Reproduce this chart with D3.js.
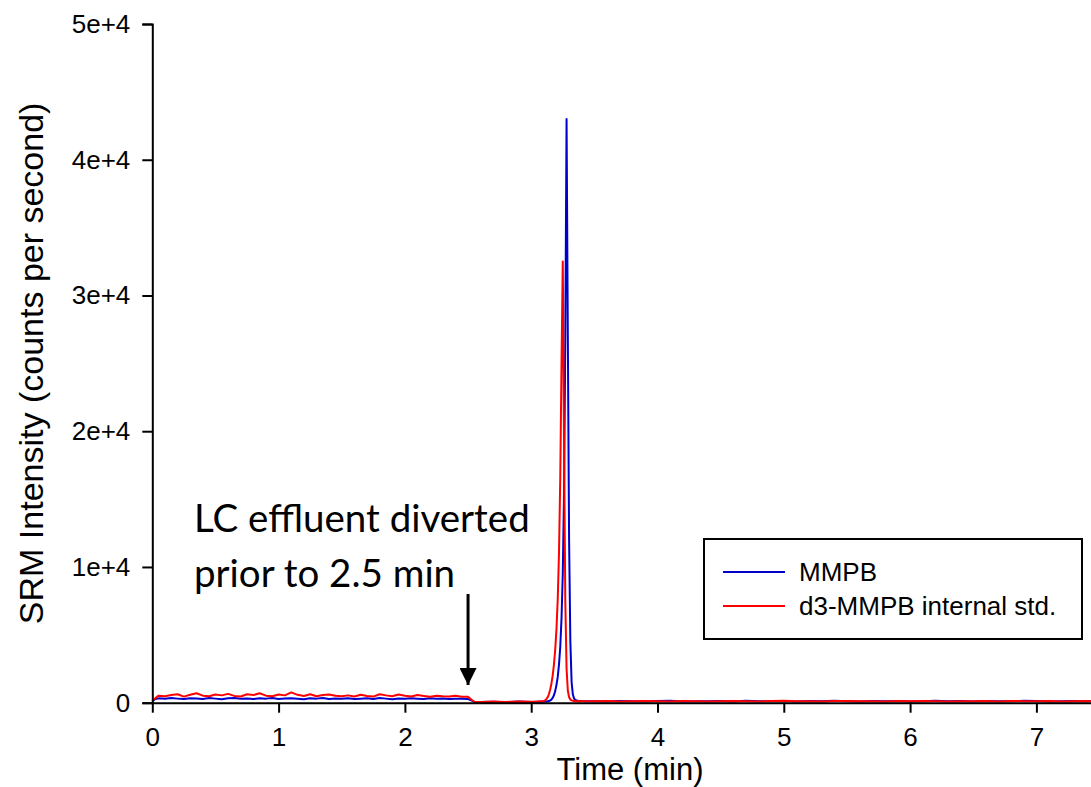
<!DOCTYPE html>
<html>
<head>
<meta charset="utf-8">
<script src="https://cdn.jsdelivr.net/npm/d3@7"></script>
<style>
  body { margin: 0; background: #fff; }
  svg { display: block; }
</style>
</head>
<body>
<div id="chart-area"></div>
<script>
// Data (time in min, intensity in counts/s)
var timeMin = [
  0, 0.02, 0.05, 0.10, 0.15, 0.20, 0.25, 0.30, 0.35, 0.40,
  0.45, 0.50, 0.55, 0.60, 0.65, 0.70, 0.75, 0.80, 0.85, 0.90,
  0.95, 1.00, 1.05, 1.10, 1.15, 1.20, 1.25, 1.30, 1.35, 1.40,
  1.45, 1.50, 1.55, 1.60, 1.65, 1.70, 1.75, 1.80, 1.85, 1.90,
  1.95, 2.00, 2.05, 2.10, 2.15, 2.20, 2.25, 2.30, 2.35, 2.40,
  2.45, 2.50, 2.53, 2.55, 2.60, 2.70, 2.80, 2.90, 3.00, 3.05,
  3.10, 3.11, 3.12, 3.13, 3.14, 3.15, 3.16, 3.17, 3.18, 3.19,
  3.20, 3.21, 3.22, 3.23, 3.24, 3.25, 3.26, 3.27, 3.28, 3.29,
  3.30, 3.31, 3.32, 3.33, 3.34, 3.35, 3.36, 3.38, 3.40, 3.45,
  3.50, 3.60, 3.70, 3.80, 3.90, 4.00, 4.10, 4.20, 4.30, 4.40,
  4.50, 4.60, 4.70, 4.80, 4.90, 5.00, 5.10, 5.20, 5.30, 5.40,
  5.50, 5.60, 5.70, 5.80, 5.90, 6.00, 6.10, 6.20, 6.30, 6.40,
  6.50, 6.60, 6.70, 6.80, 6.90, 7.00, 7.10, 7.20, 7.30, 7.40,
  7.44
];

var mmpb = [
  80, 260, 320, 290, 340, 300, 270, 330, 310, 280,
  350, 300, 260, 320, 340, 290, 310, 270, 330, 300,
  350, 280, 310, 330, 290, 260, 320, 300, 340, 280,
  310, 290, 330, 270, 300, 320, 280, 340, 300, 260,
  310, 290, 330, 300, 270, 320, 290, 310, 280, 300,
  290, 270, 150, 60, 50, 70, 40, 80, 60, 70,
  70, 80, 90, 100, 120, 160, 230, 350, 550, 850,
  1300, 1900, 2800, 4100, 6200, 9500, 15500, 27000, 43000, 27000,
  12000, 4500, 1500, 600, 300, 200, 160, 130, 120, 110,
  110, 90, 130, 100, 80, 120, 140, 90, 110, 100,
  120, 90, 140, 100, 110, 130, 90, 120, 100, 150,
  110, 90, 130, 100, 120, 80, 110, 140, 100, 120,
  90, 130, 110, 100, 140, 120, 90, 110, 130, 100,
  120
];

var mmpbStd = [
  120, 300, 520, 480, 560, 620, 450, 580, 700, 520,
  480, 600, 540, 650, 500, 460, 620, 560, 700, 520,
  480, 600, 540, 760, 580, 500, 620, 470, 560, 600,
  520, 480, 540, 460, 580, 500, 450, 620, 540, 480,
  600, 520, 460, 560, 500, 440, 520, 480, 460, 520,
  440, 430, 200, 70, 60, 80, 50, 90, 70, 90,
  130, 170, 260, 400, 620, 950, 1400, 2000, 2800, 3900,
  5400, 7600, 11000, 16500, 25000, 32500, 19000, 7500, 2500, 900,
  400, 230, 170, 150, 130, 120, 110, 120, 100, 110,
  100, 120, 90, 110, 130, 100, 90, 120, 110, 80,
  110, 130, 100, 90, 120, 140, 100, 110, 90, 120,
  130, 100, 110, 90, 120, 100, 130, 110, 90, 110,
  100, 120, 90, 130, 110, 100, 120, 90, 110, 130,
  100
];

var xTicks = [0, 1, 2, 3, 4, 5, 6, 7];
var yTicks = [0, 10000, 20000, 30000, 40000, 50000];
var yTickLabels = ["0", "1e+4", "2e+4", "3e+4", "4e+4", "5e+4"];
var seriesNames = ["MMPB", "d3-MMPB internal std."];
var seriesColors = ["#0000cc", "#ff0000"];

var width = 1091, height = 787;

var svg = d3.select("#chart-area")
    .append("svg")
        .attr("width", width)
        .attr("height", height);

// Scales
var x = d3.scaleLinear()
    .domain([0, 7.44])
    .range([152.3, 152.3 + 7.44 * 126.3]);

var y = d3.scaleLinear()
    .domain([0, 50000])
    .range([702.7, 24]);

// Traces
var series = [mmpb, mmpbStd];
var line = d3.line()
    .x(function(d){ return x(d[0]); })
    .y(function(d){ return y(d[1]); });

series.forEach(function(vals, i){
    var pts = timeMin.map(function(t, j){ return [t, vals[j]]; });
    svg.append("path")
        .datum(pts)
        .attr("fill", "none")
        .attr("stroke", seriesColors[i])
        .attr("stroke-width", 2)
        .attr("stroke-linejoin", "round")
        .attr("d", line);
});

// X Axis
var xAxisCall = d3.axisBottom(x)
    .tickValues(xTicks)
    .tickFormat(d3.format("d"))
    .tickSize(10)
    .tickSizeOuter(0)
    .tickPadding(15);
var xAxis = svg.append("g")
    .attr("transform", "translate(0," + y(0) + ")")
    .call(xAxisCall);

// Y Axis
var yAxisCall = d3.axisLeft(y)
    .tickValues(yTicks)
    .tickFormat(function(d, i){ return yTickLabels[i]; })
    .tickSize(10)
    .tickPadding(12);
var yAxis = svg.append("g")
    .attr("transform", "translate(" + x(0) + ",0)")
    .call(yAxisCall);

[xAxis, yAxis].forEach(function(a){
    a.selectAll("path, line").attr("stroke", "#000").attr("stroke-width", 2);
    a.selectAll("text")
        .attr("fill", "#000")
        .style("font-family", "'Liberation Sans', Arial, sans-serif")
        .style("font-size", "26px");
});

// Axis labels
svg.append("text")
    .attr("x", 630)
    .attr("y", 780)
    .attr("text-anchor", "middle")
    .style("font-family", "'Liberation Sans', Arial, sans-serif")
    .style("font-size", "31px")
    .text("Time (min)");

svg.append("text")
    .attr("transform", "translate(43," + ((y(0) + y(50000)) / 2) + ") rotate(-90)")
    .attr("text-anchor", "middle")
    .style("font-family", "'Liberation Sans', Arial, sans-serif")
    .style("font-size", "34px")
    .text("SRM Intensity (counts per second)");

// Annotation
var note = svg.append("text")
    .style("font-family", "Lato, 'Open Sans', sans-serif")
    .style("font-size", "38.5px")
    .attr("fill", "#000");
note.append("tspan").attr("x", 194).attr("y", 532).text("LC effluent diverted");
note.append("tspan").attr("x", 194).attr("y", 587).text("prior to 2.5 min");

svg.append("defs").append("marker")
    .attr("id", "head")
    .attr("viewBox", "0 0 10 10")
    .attr("refX", 10).attr("refY", 5)
    .attr("markerUnits", "userSpaceOnUse")
    .attr("markerWidth", 17).attr("markerHeight", 17)
    .attr("orient", "auto")
  .append("path")
    .attr("d", "M0,0L10,5L0,10Z")
    .attr("fill", "#000");

svg.append("line")
    .attr("x1", x(2.5)).attr("x2", x(2.5))
    .attr("y1", 594).attr("y2", 685)
    .attr("stroke", "#000")
    .attr("stroke-width", 3)
    .attr("marker-end", "url(#head)");

// Legend
var legend = svg.append("g").attr("transform", "translate(704,539)");
legend.append("rect")
    .attr("width", 378).attr("height", 100)
    .attr("fill", "#fff")
    .attr("stroke", "#000")
    .attr("stroke-width", 2);

seriesNames.forEach(function(name, i){
    var row = legend.append("g").attr("transform", "translate(0," + (33 + i * 34) + ")");
    row.append("line")
        .attr("x1", 19).attr("x2", 81)
        .attr("stroke", seriesColors[i])
        .attr("stroke-width", 2);
    row.append("text")
        .attr("x", 95).attr("y", 9)
        .style("font-family", "'Liberation Sans', Arial, sans-serif")
        .style("font-size", "26px")
        .text(name);
});
</script>
</body>
</html>
